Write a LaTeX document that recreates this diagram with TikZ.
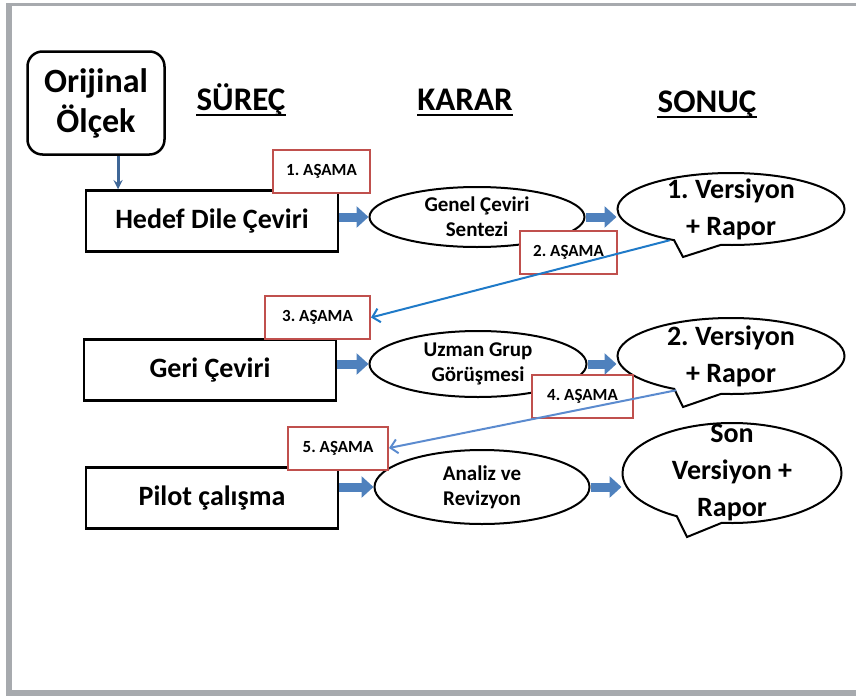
\documentclass[tikz,border=0pt]{standalone}
\usepackage{fontspec}
\setmainfont{Carlito}
\usetikzlibrary{shapes.geometric,shapes.callouts,arrows.meta}
\frenchspacing
\definecolor{boxred}{HTML}{C0504D}
\definecolor{arrowblue}{HTML}{4F81BD}
\definecolor{lineblue}{HTML}{1F7AC8}
\definecolor{lineblue2}{HTML}{5B8BCF}
\definecolor{frm}{HTML}{A7AAAE}
\tikzset{
  proc/.style={draw,line width=2.5pt,minimum width=252pt,minimum height=61pt,
    font=\fontsize{28}{32}\selectfont\bfseries},
  dec/.style={ellipse,draw,line width=2pt,inner sep=-2pt,align=center,
    font=\fontsize{21}{25}\selectfont\bfseries},
  res/.style={ellipse callout,draw,line width=2pt,inner sep=-8pt,align=center,
    callout pointer arc=25,minimum width=227pt,
    font=\fontsize{28}{37}\selectfont\bfseries},
  stage/.style={draw=boxred,fill=white,line width=2pt,minimum height=43pt,
    font=\fontsize{17}{19}\selectfont\bfseries},
  hdr/.style={anchor=base,inner sep=0pt,font=\fontsize{33}{36}\selectfont\bfseries},
  blk/.style={arrowblue,line width=9pt,-{Triangle[length=12pt,width=21pt]}},
}
\begin{document}
\begin{tikzpicture}[x=1pt,y=-1pt]
  \useasboundingbox (0,0) rectangle (856,696);
  \draw[frm,line width=3pt] (6,4) -- (856,4);
  \draw[frm,line width=6pt] (9,3) -- (9,693);
  \draw[frm,line width=6pt] (6,693) -- (856,693);

  \node[draw,line width=2.5pt,rounded corners=15pt,minimum width=137pt,minimum height=103pt,
    align=center,font=\fontsize{34}{40}\selectfont\bfseries] (org) at (96,103) {Orijinal\\Ölçek};
  \node[hdr] (sur) at (241,110) {SÜREÇ};
  \node[hdr] (kar) at (465,110) {KARAR};
  \node[hdr] (son) at (707,112) {SONUÇ};
  \foreach \n in {sur,kar,son}
    \draw[line width=2.5pt] ([yshift=-5pt]\n.base west) -- ([yshift=-5pt]\n.base east);

  \node[proc] (hedef) at (212,221) {Hedef Dile Çeviri};
  \node[proc] (geri) at (210,370) {Geri Çeviri};
  \node[proc] (pilot) at (212,498) {Pilot çalışma};

  \node[dec,minimum width=215pt,minimum height=60pt] (genel) at (477,217) {Genel Çeviri\\Sentezi};
  \node[dec,minimum width=217pt,minimum height=66pt] (uzman) at (478,364) {Uzman Grup\\Görüşmesi};
  \node[dec,minimum width=215pt,minimum height=74pt] (analiz) at (482,487) {Analiz ve\\Revizyon};

  \node[res,minimum height=72pt,callout absolute pointer={(683,257)}] (v1) at (731,209) {1. Versiyon\\+ Rapor};
  \node[res,minimum height=76pt,callout absolute pointer={(683,407)}] (v2) at (731,356) {2. Versiyon\\+ Rapor};
  \node[res,minimum width=219pt,minimum height=100pt,inner sep=-16pt,
    callout absolute pointer={(687,537)}] (vson) at (732,473) {Son\\Versiyon +\\Rapor};

  \node[stage,minimum width=97pt] (a1) at (321.5,171.5) {1. AŞAMA};
  \node[stage,minimum width=97pt] (a2) at (568.5,252.5) {2. AŞAMA};
  \node[stage,minimum width=105pt] (a3) at (317.5,317.5) {3. AŞAMA};
  \node[stage,minimum width=101pt] (a4) at (582.5,396.5) {4. AŞAMA};
  \node[stage,minimum width=100pt] (a5) at (338,448) {5. AŞAMA};

  \draw[blk] (hedef.east |- genel.west) -- (genel.west);
  \draw[blk] (genel.east) -- (genel.east -| v1.west);
  \draw[blk] (geri.east |- uzman.west) -- (uzman.west);
  \draw[blk] (uzman.east) -- (uzman.east -| v2.west);
  \draw[blk] (pilot.east |- analiz.west) -- (analiz.west);
  \draw[blk] (analiz.east) -- (analiz.east -| vson.west);

  \draw[arrowblue!80!black,line width=3pt,-stealth] ([xshift=22pt]org.south) -- ([xshift=22pt]org.south |- hedef.north);
  \draw[lineblue,line width=2pt,-{Straight Barb[length=7pt,width=14pt]}] (v1.207) -- (a3.east);
  \draw[lineblue2,line width=2pt,-{Straight Barb[length=7pt,width=14pt]}] (v2.212) -- (a5.east);
\end{tikzpicture}
\end{document}
